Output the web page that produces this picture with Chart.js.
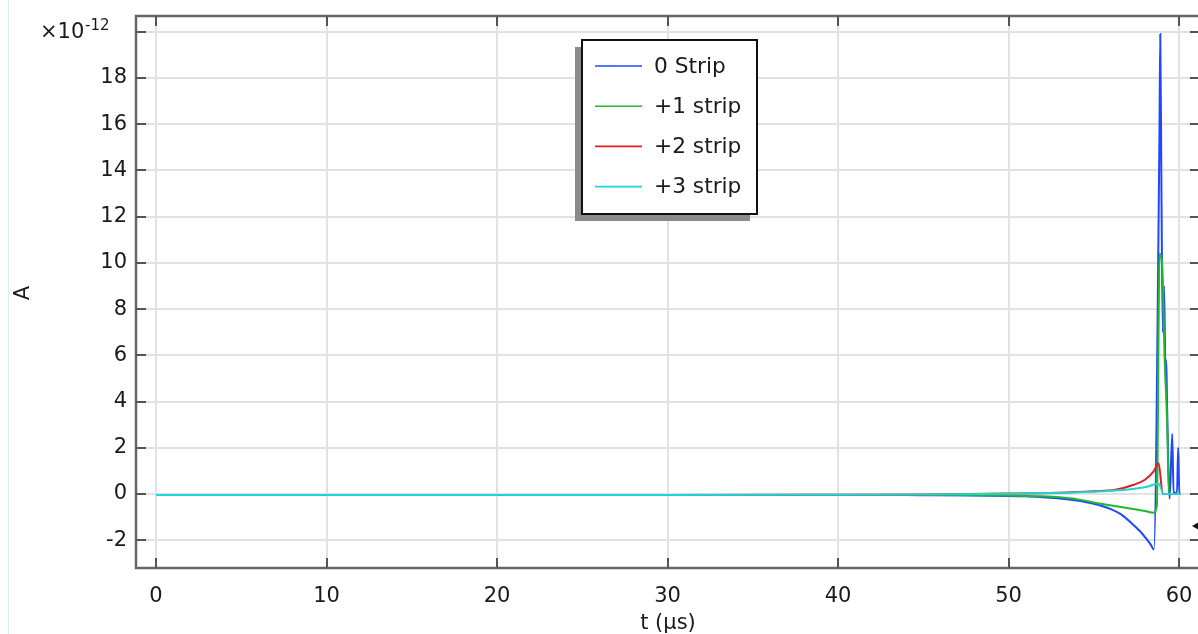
<!DOCTYPE html>
<html><head><meta charset="utf-8">
<script src="https://cdn.jsdelivr.net/npm/chart.js@4.4.1/dist/chart.umd.min.js"></script>
<style>
html,body{margin:0;padding:0;background:#fff;overflow:hidden;width:1198px;height:634px}
#wrap{position:relative;width:1210px;height:634px}
</style></head><body>
<div id="wrap"><canvas id="c" width="1210" height="634"></canvas></div>
<script>
// Time values (µs) and currents (units of 1e-12 A)
const tBlue  = [0, 10, 20, 30, 40, 45, 48, 50, 51, 52, 53, 54, 55, 56, 56.6, 57.2, 57.7, 58.1, 58.35, 58.52, 58.85, 58.9, 58.97, 59.05, 59.12, 59.2, 59.25, 59.3, 59.45, 59.6, 59.68, 59.88, 59.95, 60.02, 60.1];
const iBlue  = [-0.04, -0.04, -0.04, -0.04, -0.04, -0.05, -0.06, -0.08, -0.1, -0.14, -0.19, -0.28, -0.42, -0.65, -0.88, -1.25, -1.6, -1.95, -2.2, -2.4, 15.4, 19.9, 13, 7, 9, 5.6, 5.8, 3.8, -0.2, 2.6, 0.05, 0.05, 2.0, 0, 0];
const tGreen = [0, 10, 20, 30, 40, 45, 48, 50, 52, 53, 54, 55.4, 56.5, 57.3, 58, 58.5, 58.7, 58.86, 59.02, 59.15, 59.31, 59.41, 60.1];
const iGreen = [-0.04, -0.04, -0.04, -0.04, -0.04, -0.04, -0.05, -0.06, -0.1, -0.14, -0.22, -0.42, -0.55, -0.65, -0.73, -0.81, -0.5, 10.4, 9.8, 6, 2.9, 0, 0];
const tRed   = [0, 10, 20, 30, 40, 45, 50, 53, 55, 56.2, 57.3, 58, 58.5, 58.8, 59.05, 60.1];
const iRed   = [-0.04, -0.04, -0.04, -0.04, -0.03, -0.02, 0.02, 0.06, 0.12, 0.17, 0.39, 0.62, 0.97, 1.33, 0, 0];
const tCyan  = [0, 10, 20, 30, 40, 45, 50, 53, 55, 56.5, 57.5, 58.2, 58.8, 59.1, 60.1];
const iCyan  = [-0.04, -0.04, -0.04, -0.04, -0.03, -0.02, 0.01, 0.05, 0.1, 0.16, 0.24, 0.33, 0.46, 0, 0];
const seriesLabels = ['0 Strip', '+1 strip', '+2 strip', '+3 strip'];
const seriesColors = ['#1f47ff', '#22b82e', '#e01f1f', '#1fd4d8'];
const xTitle = 't (µs)';
const yTitle = 'A';

const FONT = '"DejaVu Sans", sans-serif';
const X_MIN = -1.173, X_MAX = 61.23;
const Y_MIN = -3.20, Y_MAX = 20.68;

function pts(t, v){ return t.map((x,i)=>({x:x, y:v[i]})); }
const allT = [tBlue, tGreen, tRed, tCyan];
const allI = [iBlue, iGreen, iRed, iCyan];

const datasets = seriesLabels.map((lab, k)=>({
  label: lab,
  data: pts(allT[k], allI[k]),
  borderColor: seriesColors[k],
  borderWidth: 2,
  pointRadius: 0,
  fill: false,
  cubicInterpolationMode: 'monotone',
  order: 4 - k
}));

const decor = {
  id: 'decor',
  afterDatasetsDraw(chart){
    const {ctx, chartArea:a, scales:{x, y}} = chart;
    ctx.save();
    // frame
    ctx.strokeStyle = '#666'; ctx.lineWidth = 2.5;
    ctx.strokeRect(a.left, a.top, a.right - a.left, a.bottom - a.top);
    // inward ticks
    ctx.strokeStyle = '#555'; ctx.lineWidth = 2;
    ctx.beginPath();
    x.ticks.forEach(t=>{
      const p = Math.round(x.getPixelForValue(t.value));
      ctx.moveTo(p, a.bottom); ctx.lineTo(p, a.bottom - 10);
      ctx.moveTo(p, a.top); ctx.lineTo(p, a.top + 10);
    });
    y.ticks.forEach(t=>{
      const p = Math.round(y.getPixelForValue(t.value));
      ctx.moveTo(a.left, p); ctx.lineTo(a.left + 10, p);
      ctx.moveTo(a.right, p); ctx.lineTo(a.right - 10, p);
    });
    ctx.stroke();
    // legend
    const bx = 582, by = 40, bw = 175, bh = 174;
    ctx.fillStyle = '#8a8a8a';
    ctx.fillRect(bx - 7, by + 7, bw, bh);
    ctx.fillStyle = '#fff';
    ctx.fillRect(bx, by, bw, bh);
    ctx.strokeStyle = '#111'; ctx.lineWidth = 2;
    ctx.strokeRect(bx, by, bw, bh);
    ctx.font = '21.7px ' + FONT;
    ctx.textBaseline = 'middle'; ctx.textAlign = 'left';
    chart.data.datasets.forEach((ds, k)=>{
      const ry = 66 + k * 40.2;
      ctx.strokeStyle = ds.borderColor; ctx.lineWidth = 1.6;
      ctx.beginPath(); ctx.moveTo(595, ry); ctx.lineTo(642, ry); ctx.stroke();
      ctx.fillStyle = '#1a1a1a';
      ctx.fillText(ds.label, 654, ry + 1);
    });
    // small arrow marker on right edge
    ctx.fillStyle = '#111';
    ctx.beginPath(); ctx.moveTo(1192, 526); ctx.lineTo(1199, 522); ctx.lineTo(1199, 530); ctx.closePath(); ctx.fill();
    ctx.restore();
  },
  afterDraw(chart){
    const {ctx} = chart;
    ctx.save();
    // faint left border line
    ctx.strokeStyle = '#d8ecfa'; ctx.lineWidth = 1;
    ctx.beginPath(); ctx.moveTo(8.5, 0); ctx.lineTo(8.5, 634); ctx.stroke();
    ctx.fillStyle = '#1a1a1a';
    // exponent
    ctx.textAlign = 'left'; ctx.textBaseline = 'alphabetic';
    ctx.font = '21px ' + FONT;
    ctx.fillText('×10', 40, 38);
    ctx.font = '15px ' + FONT;
    ctx.fillText('-12', 85, 29.5);
    // axis titles
    ctx.font = '21px ' + FONT;
    ctx.textAlign = 'center';
    ctx.fillText(xTitle, 668, 629);
    ctx.translate(29, 293); ctx.rotate(-Math.PI/2);
    ctx.textBaseline = 'alphabetic';
    ctx.fillText(yTitle, 0, 0);
    ctx.restore();
  }
};

new Chart(document.getElementById('c').getContext('2d'), {
  type: 'line',
  data: { datasets },
  options: {
    responsive: false, animation: false, devicePixelRatio: 1,
    layout: { padding: { left: 0, top: 16, right: 10, bottom: 0 } },
    plugins: { legend: { display: false }, tooltip: { enabled: false } },
    scales: {
      x: {
        type: 'linear', min: X_MIN, max: X_MAX,
        afterFit(s){ s.height = 66; s.paddingLeft = 0; s.paddingRight = 0; },
        ticks: { stepSize: 10, includeBounds: false, autoSkip: false, maxRotation: 0,
                 font: { family: FONT, size: 21 }, color: '#1a1a1a', padding: 16 },
        grid: { color: '#e2e2e2', lineWidth: 2, drawTicks: false },
        border: { display: false }
      },
      y: {
        type: 'linear', min: Y_MIN, max: Y_MAX,
        afterFit(s){ s.width = 136; s.paddingTop = 0; s.paddingBottom = 0; },
        ticks: { stepSize: 2, includeBounds: false, autoSkip: false,
                 font: { family: FONT, size: 21 }, color: '#1a1a1a', padding: 9,
                 callback: (v)=> Math.abs(v - 20) < 1e-6 ? '' : String(Math.round(v)) },
        grid: { color: '#e2e2e2', lineWidth: 2, drawTicks: false },
        border: { display: false }
      }
    }
  },
  plugins: [decor]
});
</script>
</body></html>
